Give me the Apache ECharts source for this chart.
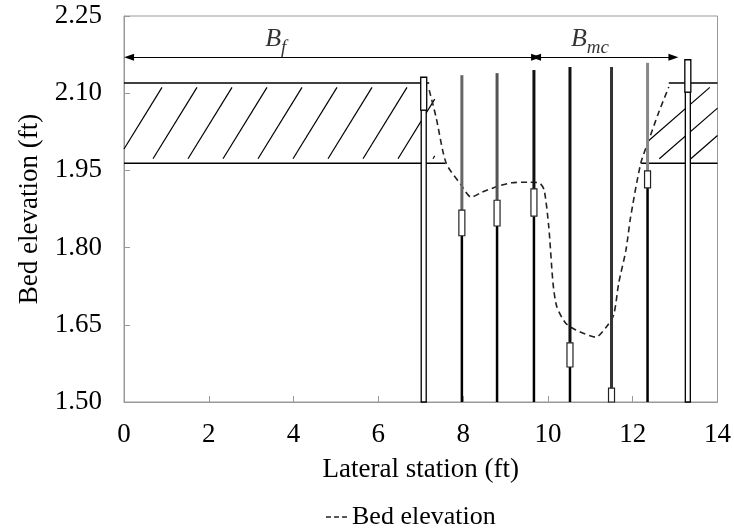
<!DOCTYPE html>
<html>
<head>
<meta charset="utf-8">
<script src="https://cdn.jsdelivr.net/npm/echarts@6/dist/echarts.min.js"></script>
<style>
  html, body { margin: 0; padding: 0; background: #fff; }
  #chart { width: 734px; height: 531px; }
</style>
</head>
<body>
<div id="chart"></div>
<script>
// axes
var xTicks = [0, 2, 4, 6, 8, 10, 12, 14];
var yTicks = [1.50, 1.65, 1.80, 1.95, 2.10, 2.25];

// measuring posts: station, top of post, sensor box bottom / top (ft)
var postStation = [7.07, 7.97, 8.80, 9.67, 10.52, 11.50, 12.35, 13.30];
var postTop     = [2.131, 2.135, 2.139, 2.145, 2.151, 2.151, 2.159, 2.165];
var boxLow      = [2.067, 1.823, 1.842, 1.861, 1.568, 1.500, 1.916, 2.102];
var boxHigh     = [2.131, 1.873, 1.892, 1.914, 1.615, 1.527, 1.949, 2.165];

// bed profile
var bedStation = [7.20, 7.36, 7.60, 7.95, 8.19, 8.45, 8.85, 9.15, 9.55, 9.79, 9.91, 10.02, 10.12, 10.21,
                  10.42, 10.66, 11.13, 11.36, 11.55, 11.67, 11.84, 11.95, 12.19, 12.38, 12.61, 12.85];
var bedElev    = [2.106, 2.054, 1.964, 1.922, 1.898, 1.908, 1.920, 1.926, 1.927, 1.926, 1.912, 1.840, 1.731, 1.685,
                  1.653, 1.640, 1.626, 1.644, 1.669, 1.731, 1.795, 1.859, 1.964, 2.009, 2.062, 2.112];

// floodplain banks
var bankTop = 2.12;
var bankBottom = 1.964;
var bankLines = [[0, 7.20, bankTop], [0, 7.58, bankBottom], [12.85, 14, bankTop], [12.20, 14, bankBottom]];
var hatchZones = [[0, 7.33], [12.38, 14]];

// width arrows: B_f and B_mc
var arrowElev = 2.17;
var arrowStops = [0.12, 9.72, 12.96];
var widthNames = ['f', 'mc'];
var widthLabelX = [3.58, 10.99];
var widthLabelY = [2.200, 2.200];

var font = 'Liberation Serif, Times New Roman, serif';
var postLook = ['double', '#666', '#555', '#111', '#111', '#333', '#888', 'double'];
var hatchLook = [{ dx: 44, gap: 35, offset: -6 }, { dx: 82, gap: 31.5, offset: -21 }];

var myChart = echarts.init(document.getElementById('chart'));

function renderPost(params, api) {
  var i = params.dataIndex;
  var x = api.value(0);
  var base = api.coord([x, yTicks[0]]);
  var top = api.coord([x, api.value(1)]);
  var lo = api.coord([x, api.value(2)]);
  var hi = api.coord([x, api.value(3)]);
  var cx = base[0];
  var kids = [];
  if (postLook[i] === 'double') {
    kids.push({ type: 'rect', shape: { x: cx - 2.5, y: lo[1], width: 5, height: base[1] - lo[1] },
      style: { fill: '#fff', stroke: '#000', lineWidth: 1.3 } });
    kids.push({ type: 'rect', shape: { x: cx - 3, y: hi[1], width: 6, height: lo[1] - hi[1] },
      style: { fill: '#fff', stroke: '#000', lineWidth: 1.3 } });
  } else {
    kids.push({ type: 'line', shape: { x1: cx, y1: base[1], x2: cx, y2: lo[1] },
      style: { stroke: '#000', lineWidth: 2.5 } });
    kids.push({ type: 'line', shape: { x1: cx, y1: hi[1], x2: cx, y2: top[1] },
      style: { stroke: postLook[i], lineWidth: 3 } });
    kids.push({ type: 'rect', shape: { x: cx - 3, y: hi[1], width: 6, height: lo[1] - hi[1] },
      style: { fill: '#fff', stroke: '#222', lineWidth: 1.2 } });
  }
  return { type: 'group', children: kids };
}

function renderBankLine(params, api) {
  var a = api.coord([api.value(0), api.value(2)]);
  var b = api.coord([api.value(1), api.value(2)]);
  return { type: 'line', shape: { x1: a[0], y1: a[1], x2: b[0], y2: b[1] },
    style: { stroke: '#000', lineWidth: 1.5 } };
}

function renderHatch(params, api) {
  var h = hatchLook[params.dataIndex];
  var p0 = api.coord([api.value(0), bankBottom]);
  var p1 = api.coord([api.value(1), bankTop]);
  var L = p0[0], R = p1[0];
  var yb = p0[1] - 4.5, yt = p1[1] + 4.5;
  var kids = [];
  for (var bx = L + h.offset; bx < R; bx += h.gap) {
    var t0 = Math.max(0, (L - bx) / h.dx);
    var t1 = Math.min(1, (R - bx) / h.dx);
    if (t1 <= t0) continue;
    kids.push({ type: 'line',
      shape: { x1: bx + h.dx * t0, y1: yb - (yb - yt) * t0, x2: bx + h.dx * t1, y2: yb - (yb - yt) * t1 },
      style: { stroke: '#000', lineWidth: 1.2 } });
  }
  return { type: 'group', children: kids };
}

var option = {
  animation: false,
  grid: { left: 124, right: 15, top: 16, bottom: 129, show: true, borderColor: '#999', borderWidth: 1 },
  legend: {
    data: ['Bed elevation'], left: 321, top: 499, itemWidth: 21, itemHeight: 1.6,
    icon: 'path://M0,0h5v1.6h-5z M8,0h5v1.6h-5z M16,0h5v1.6h-5z',
    textStyle: { fontFamily: font, fontSize: 26, color: '#000' }
  },
  xAxis: {
    type: 'value', min: xTicks[0], max: xTicks[xTicks.length - 1], interval: 2,
    name: 'Lateral station (ft)', nameLocation: 'middle', nameGap: 54,
    nameTextStyle: { fontFamily: font, fontSize: 27, color: '#000' },
    axisLine: { lineStyle: { color: '#999' } },
    axisTick: { inside: true, length: 6, lineStyle: { color: '#999' } },
    axisLabel: { fontFamily: font, fontSize: 27, color: '#000', margin: 19 },
    splitLine: { show: false }
  },
  yAxis: {
    type: 'value', min: yTicks[0], max: yTicks[yTicks.length - 1], interval: 0.15,
    name: 'Bed elevation (ft)', nameLocation: 'middle', nameGap: 80,
    nameTextStyle: { fontFamily: font, fontSize: 27, color: '#000' },
    axisLine: { show: true, lineStyle: { color: '#999' } },
    axisTick: { show: true, inside: true, length: 6, lineStyle: { color: '#999' } },
    axisLabel: { fontFamily: font, fontSize: 27, color: '#000', margin: 22,
      formatter: function (v) { return v.toFixed(2); } },
    splitLine: { show: false }
  },
  series: [
    {
      type: 'custom', name: 'hatch', silent: true, z: 2,
      renderItem: renderHatch,
      data: hatchZones
    },
    {
      type: 'custom', name: 'banks', silent: true, z: 3,
      renderItem: renderBankLine,
      data: bankLines
    },
    {
      type: 'line', name: 'Bed elevation', z: 4, silent: true,
      smooth: 0.25, symbol: 'none', color: '#222',
      lineStyle: { color: '#222', width: 1.6, type: [6, 4] },
      data: bedStation.map(function (s, i) { return [s, bedElev[i]]; }),
      markLine: {
        silent: true, symbol: ['triangle', 'triangle'], symbolSize: [7, 10],
        label: { show: false },
        lineStyle: { color: '#000', width: 1.2, type: 'solid' },
        data: [
          [{ coord: [arrowStops[0], arrowElev] }, { coord: [arrowStops[1], arrowElev] }],
          [{ coord: [arrowStops[1], arrowElev] }, { coord: [arrowStops[2], arrowElev] }]
        ]
      }
    },
    {
      type: 'custom', name: 'posts', silent: true, z: 5,
      renderItem: renderPost,
      data: postStation.map(function (s, i) { return [s, postTop[i], boxLow[i], boxHigh[i]]; })
    },
    {
      type: 'scatter', name: 'widths', silent: true, symbolSize: 0, z: 6,
      data: widthNames.map(function (n, i) { return { name: n, value: [widthLabelX[i], widthLabelY[i]] }; }),
      label: {
        show: true, position: 'inside',
        formatter: function (p) { return '{b|B}{s|' + p.name + '}'; },
        rich: {
          b: { fontFamily: font, fontStyle: 'italic', fontSize: 26, lineHeight: 26, color: '#000', verticalAlign: 'top' },
          s: { fontFamily: font, fontStyle: 'italic', fontSize: 19, lineHeight: 32, color: '#000', verticalAlign: 'bottom' }
        }
      }
    }
  ]
};
myChart.setOption(option);
</script>
</body>
</html>
